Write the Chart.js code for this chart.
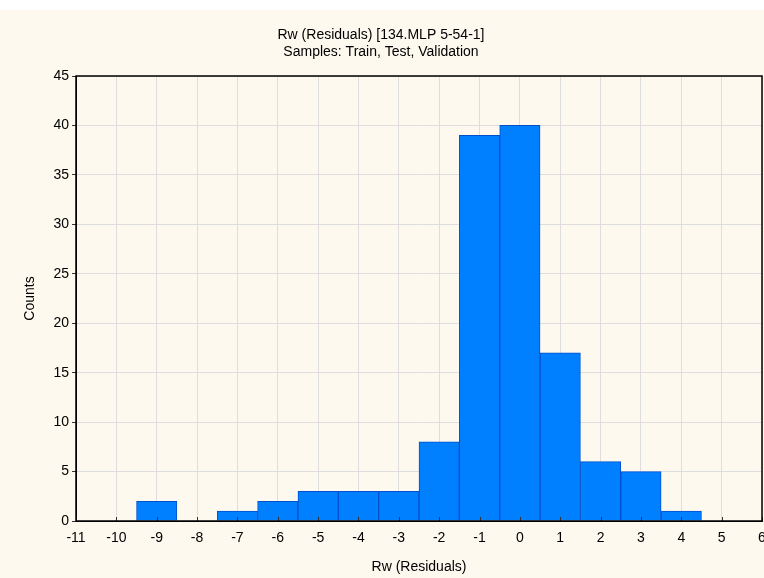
<!DOCTYPE html>
<html>
<head>
<meta charset="utf-8">
<script src="https://cdn.jsdelivr.net/npm/chart.js@4.4.1/dist/chart.umd.min.js"></script>
<style>
    html, body { margin: 0; padding: 0; background: #ffffff; }
    #wrap { position: absolute; left: 0; top: 10px; width: 764px; height: 568px; background: #fdf9ef; }
</style>
</head>
<body>
<div id="wrap"><canvas id="chart1" width="764" height="568"></canvas></div>
<script>
// histogram bins (centre of each bin) and counts
const binCenters = [-9, -8, -7, -6, -5, -4, -3, -2, -1, 0, 1, 2, 3, 4];
const counts = [2, 0, 1, 2, 3, 3, 3, 8, 39, 40, 17, 6, 5, 1];

const titleLines = ['Rw (Residuals) [134.MLP 5-54-1]', 'Samples: Train, Test, Validation'];
const xTitle = 'Rw (Residuals)';
const yTitle = 'Counts';

const FONT = "'Liberation Sans', Arial, sans-serif";

// black frame round the plot + short inward ticks on the x axis
const framePlugin = {
    id: 'frame',
    afterDraw(chart) {
        const a = chart.chartArea;
        const ctx = chart.ctx;
        const xs = chart.scales.x;
        ctx.save();
        ctx.strokeStyle = '#333';
        ctx.lineWidth = 1;
        xs.ticks.forEach((t, i) => {
            const px = Math.round(xs.getPixelForTick(i)) + 0.5;
            ctx.beginPath();
            ctx.moveTo(px, a.bottom);
            ctx.lineTo(px, a.bottom - 4);
            ctx.stroke();
        });
        ctx.strokeStyle = '#000';
        ctx.lineWidth = 1.5;
        ctx.strokeRect(a.left, a.top, a.right - a.left, a.bottom - a.top);
        ctx.restore();
    }
};

const ctx = document.getElementById('chart1');
const myChart = new Chart(ctx, {
    type: 'bar',
    data: {
        datasets: [{
            data: binCenters.map((c, i) => ({ x: c, y: counts[i] })),
            backgroundColor: '#0080ff',
            borderColor: '#0050cc',
            borderWidth: 1,
            barPercentage: 1,
            categoryPercentage: 1
        }]
    },
    options: {
        responsive: false,
        animation: false,
        layout: { padding: { left: 0, right: 2, top: 0, bottom: 0 } },
        plugins: {
            legend: { display: false },
            tooltip: { enabled: false },
            title: {
                display: true,
                text: titleLines,
                color: '#000',
                font: { family: FONT, size: 14, weight: 'normal', lineHeight: 1.25 },
                padding: { top: 16, bottom: 15 }
            }
        },
        scales: {
            x: {
                type: 'linear',
                offset: false,
                min: -11,
                max: 6,
                ticks: { stepSize: 1, color: '#000', font: { family: FONT, size: 14 }, padding: 9, maxRotation: 0, autoSkip: false },
                grid: { color: '#dedede', drawTicks: false, offset: false },
                border: { display: true, color: '#000' },
                title: { display: true, text: xTitle, color: '#000', font: { family: FONT, size: 14 }, padding: { top: 8, bottom: 2 } },
                afterFit(scale) {
                    scale.height = 57;
                    scale.paddingRight = 0;
                    scale.paddingLeft = 0;
                }
            },
            y: {
                min: 0,
                max: 45,
                ticks: { stepSize: 5, color: '#000', font: { family: FONT, size: 14 }, padding: 3 },
                grid: { color: '#dedede', tickColor: '#333', tickLength: 4 },
                border: { display: true, color: '#000' },
                title: { display: true, text: yTitle, color: '#000', font: { family: FONT, size: 14 }, padding: { top: 22, bottom: 8 } },
                afterFit(scale) { scale.width = 76; }
            }
        }
    },
    plugins: [framePlugin]
});
</script>
</body>
</html>
